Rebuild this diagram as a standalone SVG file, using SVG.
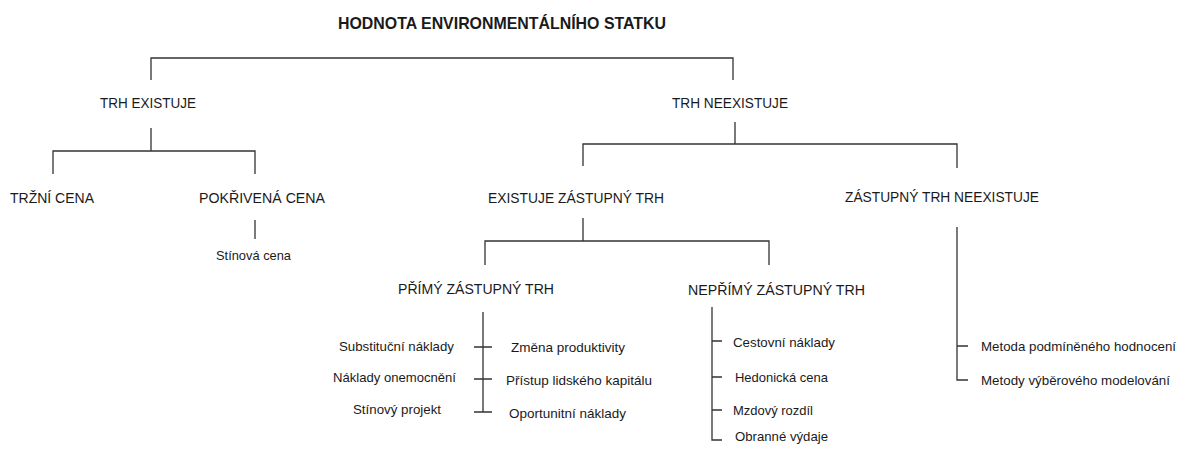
<svg xmlns="http://www.w3.org/2000/svg" width="1190" height="455" viewBox="0 0 1190 455">
<style>
text{font-family:"Liberation Sans",Arial,sans-serif;fill:#1a1a1a}
.t{font-size:17px;font-weight:bold}
.h{font-size:15.5px}
.s{font-size:13.5px}
.c{fill:none;stroke:#333;stroke-width:1.3}
</style>
<rect width="1190" height="455" fill="#fff"/>
<g id="connectors" class="c">
<path d="M151,80V58H733V80"/>
<path d="M151,128V151M53,174V151H255V174"/>
<path d="M255,220V239"/>
<path d="M735,122V144M583,166V144H957V168"/>
<path d="M583,218V241M485,265V241H769V265"/>
<path d="M957,227V380H968M957,346H968"/>
<path d="M483,312V412M474,347H492M474,379H492M474,412H492"/>
<path d="M712,307V440H722M712,341H722M712,377H722M712,410H722"/>
</g>
<g id="title"><text class="t" x="338" y="29" textLength="328" lengthAdjust="spacingAndGlyphs">HODNOTA ENVIRONMENTÁLNÍHO STATKU</text></g>
<g id="trh-existuje"><text class="h" x="100" y="108" textLength="96" lengthAdjust="spacingAndGlyphs">TRH EXISTUJE</text></g>
<g id="trh-neexistuje"><text class="h" x="672" y="108" textLength="116" lengthAdjust="spacingAndGlyphs">TRH NEEXISTUJE</text></g>
<g id="trzni-cena"><text class="h" x="10" y="203" textLength="84" lengthAdjust="spacingAndGlyphs">TRŽNÍ CENA</text></g>
<g id="pokrivena-cena"><text class="h" x="199" y="203" textLength="126" lengthAdjust="spacingAndGlyphs">POKŘIVENÁ CENA</text></g>
<g id="stinova-cena"><text class="s" x="216" y="260" textLength="75" lengthAdjust="spacingAndGlyphs">Stínová cena</text></g>
<g id="existuje-zastupny"><text class="h" x="488" y="203" textLength="176" lengthAdjust="spacingAndGlyphs">EXISTUJE ZÁSTUPNÝ TRH</text></g>
<g id="zastupny-neexistuje"><text class="h" x="845" y="202" textLength="194" lengthAdjust="spacingAndGlyphs">ZÁSTUPNÝ TRH NEEXISTUJE</text></g>
<g id="primy"><text class="h" x="398" y="294" textLength="156" lengthAdjust="spacingAndGlyphs">PŘÍMÝ ZÁSTUPNÝ TRH</text></g>
<g id="neprimy"><text class="h" x="688" y="295" textLength="177" lengthAdjust="spacingAndGlyphs">NEPŘÍMÝ ZÁSTUPNÝ TRH</text></g>
<g id="primy-items">
<text class="s" x="339" y="351" textLength="115" lengthAdjust="spacingAndGlyphs">Substituční náklady</text>
<text class="s" x="333" y="382" textLength="123" lengthAdjust="spacingAndGlyphs">Náklady onemocnění</text>
<text class="s" x="353" y="414" textLength="88" lengthAdjust="spacingAndGlyphs">Stínový projekt</text>
<text class="s" x="511" y="352" textLength="114" lengthAdjust="spacingAndGlyphs">Změna produktivity</text>
<text class="s" x="506" y="385" textLength="146" lengthAdjust="spacingAndGlyphs">Přístup lidského kapitálu</text>
<text class="s" x="509" y="418" textLength="117" lengthAdjust="spacingAndGlyphs">Oportunitní náklady</text>
</g>
<g id="neprimy-items">
<text class="s" x="733" y="347" textLength="102" lengthAdjust="spacingAndGlyphs">Cestovní náklady</text>
<text class="s" x="735" y="382" textLength="93" lengthAdjust="spacingAndGlyphs">Hedonická cena</text>
<text class="s" x="733" y="415" textLength="80" lengthAdjust="spacingAndGlyphs">Mzdový rozdíl</text>
<text class="s" x="735" y="441" textLength="93" lengthAdjust="spacingAndGlyphs">Obranné výdaje</text>
</g>
<g id="neexistuje-items">
<text class="s" x="981" y="351" textLength="195" lengthAdjust="spacingAndGlyphs">Metoda podmíněného hodnocení</text>
<text class="s" x="981" y="385" textLength="189" lengthAdjust="spacingAndGlyphs">Metody výběrového modelování</text>
</g>
</svg>
